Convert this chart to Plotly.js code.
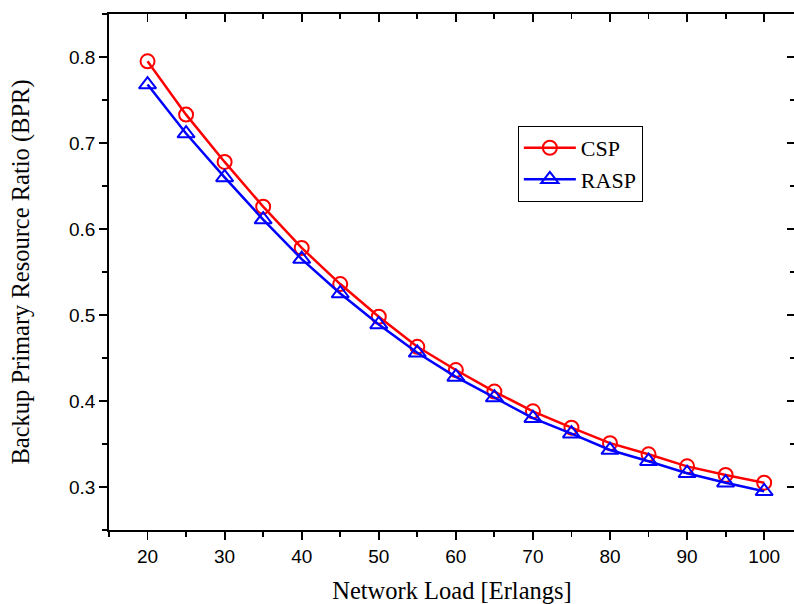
<!DOCTYPE html>
<html>
<head>
<meta charset="utf-8">
<script src="https://cdn.plot.ly/plotly-3.0.1.min.js"></script>
<style>
html,body{margin:0;padding:0;overflow:hidden;background:#fff;}
#chart{width:802px;height:604px;}
</style>
</head>
<body>
<div id="chart"></div>
<script>
const networkLoad = [20,25,30,35,40,45,50,55,60,65,70,75,80,85,90,95,100];
const cspBPR  = [0.795,0.733,0.678,0.626,0.578,0.536,0.498,0.463,0.436,0.411,0.388,0.369,0.351,0.338,0.324,0.314,0.305];
const raspBPR = [0.768,0.711,0.660,0.611,0.565,0.525,0.489,0.456,0.428,0.404,0.380,0.362,0.343,0.330,0.316,0.305,0.295];
const xTickVals = [20,30,40,50,60,70,80,90,100];
const yTickVals = [0.3,0.4,0.5,0.6,0.7,0.8];

const xRange = [15,104];
const yRange = [0.25,0.85];

const traces = [
  {x: networkLoad, y: cspBPR, name: 'CSP', mode: 'lines+markers',
   line: {color: '#ff0000', width: 2.5},
   marker: {symbol: 'circle-open', size: 14, color: '#ff0000', line: {width: 2, color: '#ff0000'}}},
  {x: networkLoad, y: raspBPR, name: 'RASP', mode: 'lines+markers',
   line: {color: '#0000ff', width: 2.5},
   marker: {symbol: 'triangle-up-open', size: 15, color: '#0000ff', line: {width: 2, color: '#0000ff'}}},
  {x: networkLoad, y: cspBPR, xaxis: 'x2', yaxis: 'y2', mode: 'lines',
   line: {width: 0}, opacity: 0, showlegend: false, hoverinfo: 'skip'}
];

const tickFont = {family: 'Liberation Sans, Arial, sans-serif', size: 19, color: '#000'};
const titleFont = {family: 'Liberation Serif, Times New Roman, serif', size: 24.5, color: '#000'};
const axW = 1.8;

const layout = {
  width: 802, height: 604,
  margin: {l: 109, r: 7, t: 14, b: 74},
  paper_bgcolor: '#fff', plot_bgcolor: '#fff',
  showlegend: true,
  legend: {x: 0.596, y: 0.783, xanchor: 'left', yanchor: 'top',
           bgcolor: '#fff', bordercolor: '#000', borderwidth: 1,
           itemwidth: 52,
           font: {family: 'Liberation Serif, Times New Roman, serif', size: 22, color: '#000'},
           tracegroupgap: 0},
  xaxis: {range: xRange, tickvals: xTickVals, ticks: 'outside', ticklen: 8, tickwidth: axW,
          tickcolor: '#000', showline: true, linecolor: '#000', linewidth: axW,
          showgrid: false, zeroline: false, tickfont: tickFont,
          minor: {dtick: 5, tick0: 0, ticks: 'outside', ticklen: 5, tickwidth: axW, tickcolor: '#000', showgrid: false},
          title: {text: 'Network Load [Erlangs]', font: titleFont, standoff: 18}},
  yaxis: {range: yRange, tickvals: yTickVals, ticks: 'outside', ticklen: 8, tickwidth: axW,
          tickcolor: '#000', showline: true, linecolor: '#000', linewidth: axW,
          showgrid: false, zeroline: false, tickfont: tickFont,
          minor: {dtick: 0.05, tick0: 0, ticks: 'outside', ticklen: 5, tickwidth: axW, tickcolor: '#000', showgrid: false},
          title: {text: 'Backup Primary Resource Ratio (BPR)', font: titleFont, standoff: 32}},
  xaxis2: {range: xRange, overlaying: 'x', side: 'top', anchor: 'y2', tickvals: xTickVals,
           ticks: 'inside', ticklen: 8, tickwidth: axW, tickcolor: '#000',
           showline: true, linecolor: '#000', linewidth: axW, showticklabels: false,
           showgrid: false, zeroline: false,
           minor: {dtick: 5, tick0: 0, ticks: 'inside', ticklen: 5, tickwidth: axW, tickcolor: '#000', showgrid: false}},
  yaxis2: {range: yRange, overlaying: 'y', side: 'right', anchor: 'x2', tickvals: yTickVals,
           ticks: 'inside', ticklen: 8, tickwidth: axW, tickcolor: '#000',
           showline: true, linecolor: '#000', linewidth: axW, showticklabels: false,
           showgrid: false, zeroline: false,
           minor: {dtick: 0.05, tick0: 0, ticks: 'inside', ticklen: 5, tickwidth: axW, tickcolor: '#000', showgrid: false}}
};

Plotly.newPlot('chart', traces, layout, {displayModeBar: false, staticPlot: true});
</script>
</body>
</html>
